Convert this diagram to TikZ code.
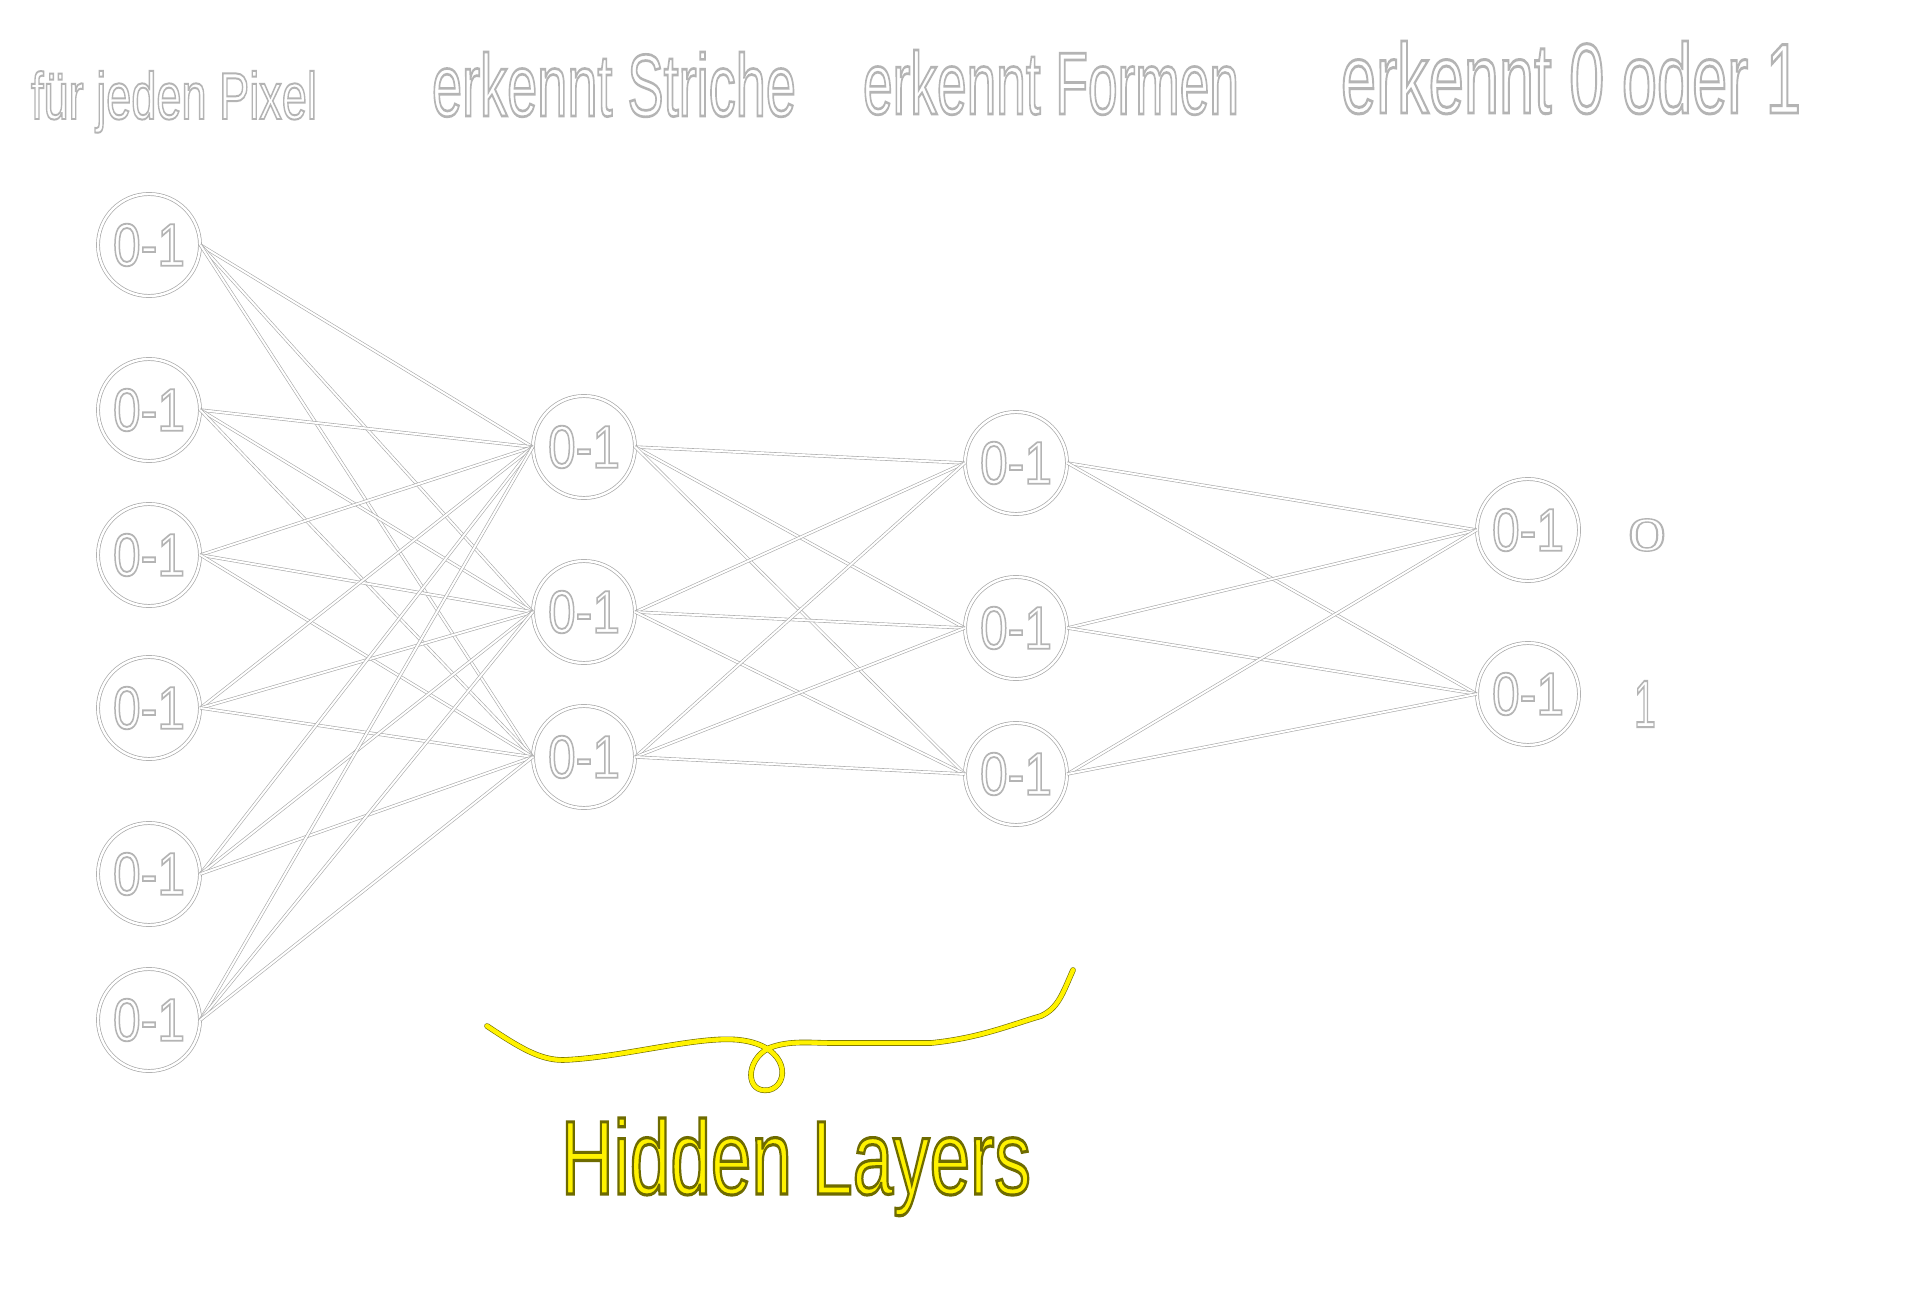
\documentclass[tikz,border=0pt]{standalone}
\usepackage{fontspec}
\setmainfont{Liberation Sans}
\usepackage{graphicx}
\definecolor{rim}{HTML}{A8A8A8}
\definecolor{trim}{HTML}{B4B4B4}
\definecolor{yrim}{HTML}{6E6A00}
\definecolor{ylw}{HTML}{FFF200}
\newcommand{\outl}[1]{{\color{trim}\special{pdf:code 1 Tr 0.3 w}#1\special{pdf:code 0 Tr}}}
\newcommand{\youtl}[1]{{\color{ylw}\special{pdf:code 2 Tr 0.3 w 0.43 0.42 0 RG}#1\special{pdf:code 0 Tr}}}
\tikzset{
  neuron/.style={circle, minimum size=51pt, inner sep=0pt, draw=rim, line width=0.35pt, double=white, double distance=1.2pt},
  link/.style={draw=rim, line width=0.3pt, double=white, double distance=1.0pt},
  hand/.style={inner sep=0pt, anchor=base},
  yel/.style={draw=yrim, line width=0.3pt, double=ylw, double distance=2.2pt, line cap=round},
}
\begin{document}
\begin{tikzpicture}[x=0.5pt,y=-0.5pt]
\fill[white] (0,0) rectangle (1920,1289);
\useasboundingbox (0,0) rectangle (1920,1289);
% nodes
\foreach \n/\y in {1/245,2/410,3/555,4/708,5/874,6/1020}
  \node[neuron] (i\n) at (149,\y) {\outl{\resizebox{36pt}{21pt}{0-1}}};
\foreach \n/\y in {1/447,2/612,3/757}
  \node[neuron] (h\n) at (584,\y) {\outl{\resizebox{36pt}{21pt}{0-1}}};
\foreach \n/\y in {1/463,2/628,3/774}
  \node[neuron] (g\n) at (1016,\y) {\outl{\resizebox{36pt}{21pt}{0-1}}};
\foreach \n/\y in {1/530,2/694}
  \node[neuron] (o\n) at (1528,\y) {\outl{\resizebox{36pt}{21pt}{0-1}}};
% links
\foreach \a in {1,...,6}
  \foreach \b in {1,2,3}
    \draw[link] (i\a.east) -- (h\b.west);
\foreach \a in {1,2,3}
  \foreach \b in {1,2}
    \draw[link] (g\a.east) -- (o\b.west);
\foreach \a in {1,2,3}
  \foreach \b in {1,2,3}
    \draw[link] (h\a.east) -- (g\b.west);
% output labels
\node[inner sep=0pt] (l0) at (1647,535) {\outl{\resizebox{19pt}{16pt}{0}}};
\node[inner sep=0pt] (l1) at (1645,704) {\outl{\resizebox{11pt}{23pt}{1}}};
% top texts
\node[hand] (t1) at (174,119) {\outl{\resizebox{143pt}{24pt}{für jeden Pixel}}};
\node[hand] (t2) at (614,116) {\outl{\resizebox{182pt}{32pt}{erkennt Striche}}};
\node[hand] (t3) at (1051,114) {\outl{\resizebox{188pt}{32pt}{erkennt Formen}}};
\node[hand] (t4) at (1571,113) {\outl{\resizebox{230pt}{36pt}{erkennt 0 oder 1}}};
% brace
\draw[yel] (487,1026) .. controls (520,1048) and (540,1060) .. (563,1060)
  .. controls (620,1058) and (700,1035) .. (740,1040)
  .. controls (790,1046) and (790,1085) .. (769,1090)
  .. controls (745,1094) and (745,1060) .. (769,1048)
  .. controls (790,1040) and (810,1043) .. (833,1043)
  -- (931,1043)
  .. controls (980,1038) and (1010,1025) .. (1041,1016)
  .. controls (1058,1008) and (1062,995) .. (1073,970);
\node[hand] (hl) at (796,1194) {\youtl{\resizebox{235pt}{38pt}{Hidden Layers}}};
\end{tikzpicture}
\end{document}
